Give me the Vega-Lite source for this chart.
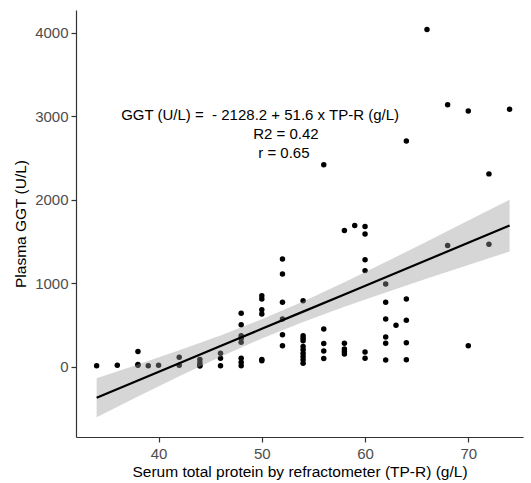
{
  "$schema": "https://vega.github.io/schema/vega-lite/v6.json",
  "width": 447,
  "height": 427,
  "autosize": {"type": "none"},
  "padding": {"left": 76, "top": 10, "right": 8, "bottom": 46},
  "background": "white",
  "config": {
    "view": {"stroke": null},
    "font": "Liberation Sans",
    "axis": {
      "grid": false,
      "domainColor": "#333333",
      "domainWidth": 1.2,
      "tickColor": "#333333",
      "tickWidth": 1.2,
      "tickSize": 5,
      "labelColor": "#4D4D4D",
      "labelFontSize": 15,
      "labelFont": "Liberation Sans",
      "titleFont": "Liberation Sans",
      "titleFontSize": 15.5,
      "titleFontWeight": "normal",
      "titleColor": "#000000",
      "labelPadding": 3
    }
  },
  "datasets": {
    "pts": [
      {"tp": 34, "ggt": 10},
      {"tp": 36, "ggt": 15},
      {"tp": 38, "ggt": 180}, {"tp": 38, "ggt": 15}, {"tp": 38, "ggt": 25},
      {"tp": 39, "ggt": 10},
      {"tp": 40, "ggt": 15},
      {"tp": 42, "ggt": 110}, {"tp": 42, "ggt": 15},
      {"tp": 44, "ggt": 85}, {"tp": 44, "ggt": 45}, {"tp": 44, "ggt": 15}, {"tp": 44, "ggt": 5},
      {"tp": 46, "ggt": 160}, {"tp": 46, "ggt": 100}, {"tp": 46, "ggt": 10},
      {"tp": 48, "ggt": 640}, {"tp": 48, "ggt": 500}, {"tp": 48, "ggt": 370}, {"tp": 48, "ggt": 340}, {"tp": 48, "ggt": 290}, {"tp": 48, "ggt": 100}, {"tp": 48, "ggt": 50}, {"tp": 48, "ggt": 10},
      {"tp": 50, "ggt": 850}, {"tp": 50, "ggt": 810}, {"tp": 50, "ggt": 680}, {"tp": 50, "ggt": 630}, {"tp": 50, "ggt": 85}, {"tp": 50, "ggt": 70},
      {"tp": 52, "ggt": 1290}, {"tp": 52, "ggt": 1110}, {"tp": 52, "ggt": 770}, {"tp": 52, "ggt": 570}, {"tp": 52, "ggt": 380}, {"tp": 52, "ggt": 250},
      {"tp": 54, "ggt": 790}, {"tp": 54, "ggt": 370}, {"tp": 54, "ggt": 340}, {"tp": 54, "ggt": 310}, {"tp": 54, "ggt": 240}, {"tp": 54, "ggt": 200}, {"tp": 54, "ggt": 160}, {"tp": 54, "ggt": 120}, {"tp": 54, "ggt": 80}, {"tp": 54, "ggt": 40},
      {"tp": 56, "ggt": 2420}, {"tp": 56, "ggt": 450}, {"tp": 56, "ggt": 275}, {"tp": 56, "ggt": 185}, {"tp": 56, "ggt": 95},
      {"tp": 58, "ggt": 1630}, {"tp": 58, "ggt": 280}, {"tp": 58, "ggt": 210}, {"tp": 58, "ggt": 180}, {"tp": 58, "ggt": 150},
      {"tp": 59, "ggt": 1690},
      {"tp": 60, "ggt": 1680}, {"tp": 60, "ggt": 1590}, {"tp": 60, "ggt": 1280}, {"tp": 60, "ggt": 1150}, {"tp": 60, "ggt": 175}, {"tp": 60, "ggt": 100},
      {"tp": 62, "ggt": 990}, {"tp": 62, "ggt": 770}, {"tp": 62, "ggt": 570}, {"tp": 62, "ggt": 355}, {"tp": 62, "ggt": 278}, {"tp": 62, "ggt": 78},
      {"tp": 63, "ggt": 495},
      {"tp": 64, "ggt": 2705}, {"tp": 64, "ggt": 810}, {"tp": 64, "ggt": 555}, {"tp": 64, "ggt": 285}, {"tp": 64, "ggt": 80},
      {"tp": 66, "ggt": 4040},
      {"tp": 68, "ggt": 3140}, {"tp": 68, "ggt": 1450},
      {"tp": 70, "ggt": 3065}, {"tp": 70, "ggt": 250},
      {"tp": 72, "ggt": 2310}, {"tp": 72, "ggt": 1465},
      {"tp": 74, "ggt": 3085}
    ],
    "band": [
      {"tp": 34, "fit": -373.8, "lo": -607, "hi": -141},
      {"tp": 38, "fit": -167.4, "lo": -359, "hi": 25},
      {"tp": 42, "fit": 39.0, "lo": -116, "hi": 194},
      {"tp": 46, "fit": 245.4, "lo": 117, "hi": 373},
      {"tp": 50, "fit": 451.8, "lo": 337, "hi": 567},
      {"tp": 54, "fit": 658.2, "lo": 535, "hi": 781},
      {"tp": 58, "fit": 864.6, "lo": 717, "hi": 1012},
      {"tp": 62, "fit": 1071.0, "lo": 889, "hi": 1253},
      {"tp": 66, "fit": 1277.4, "lo": 1055, "hi": 1499},
      {"tp": 70, "fit": 1483.8, "lo": 1218, "hi": 1750},
      {"tp": 74, "fit": 1690.2, "lo": 1379, "hi": 2001}
    ],
    "notes": [
      {"tp": 49.83, "ggt": 3016, "label": "GGT (U/L) = \u00a0- 2128.2 + 51.6 x TP-R (g/L)"},
      {"tp": 52.33, "ggt": 2790, "label": "R2 = 0.42"},
      {"tp": 52.14, "ggt": 2565, "label": "r = 0.65"}
    ]
  },
  "encoding": {
    "x": {
      "field": "tp", "type": "quantitative",
      "scale": {"domain": [32, 75.3], "nice": false, "zero": false},
      "axis": {"values": [40, 50, 60, 70], "title": "Serum total protein by refractometer (TP-R) (g/L)", "titlePadding": 3, "labelPadding": 4}
    },
    "y": {
      "field": "ggt", "type": "quantitative",
      "scale": {"domain": [-845, 4275], "nice": false, "zero": false},
      "axis": {"values": [0, 1000, 2000, 3000, 4000], "format": "d", "title": "Plasma GGT (U/L)", "titlePadding": 6}
    }
  },
  "layer": [
    {
      "data": {"name": "pts"},
      "mark": {"type": "point", "filled": true, "shape": "circle", "size": 30, "color": "#000000", "opacity": 1}
    },
    {
      "data": {"name": "band"},
      "mark": {"type": "area", "color": "#999999", "opacity": 0.4},
      "encoding": {"y": {"field": "lo", "type": "quantitative"}, "y2": {"field": "hi"}}
    },
    {
      "data": {"name": "band"},
      "mark": {"type": "line", "color": "#000000", "strokeWidth": 2.2},
      "encoding": {"y": {"field": "fit", "type": "quantitative"}}
    },
    {
      "data": {"name": "notes"},
      "mark": {"type": "text", "fontSize": 15, "color": "#000000", "align": "center", "baseline": "middle", "font": "Liberation Sans"},
      "encoding": {"text": {"field": "label"}}
    }
  ]
}
